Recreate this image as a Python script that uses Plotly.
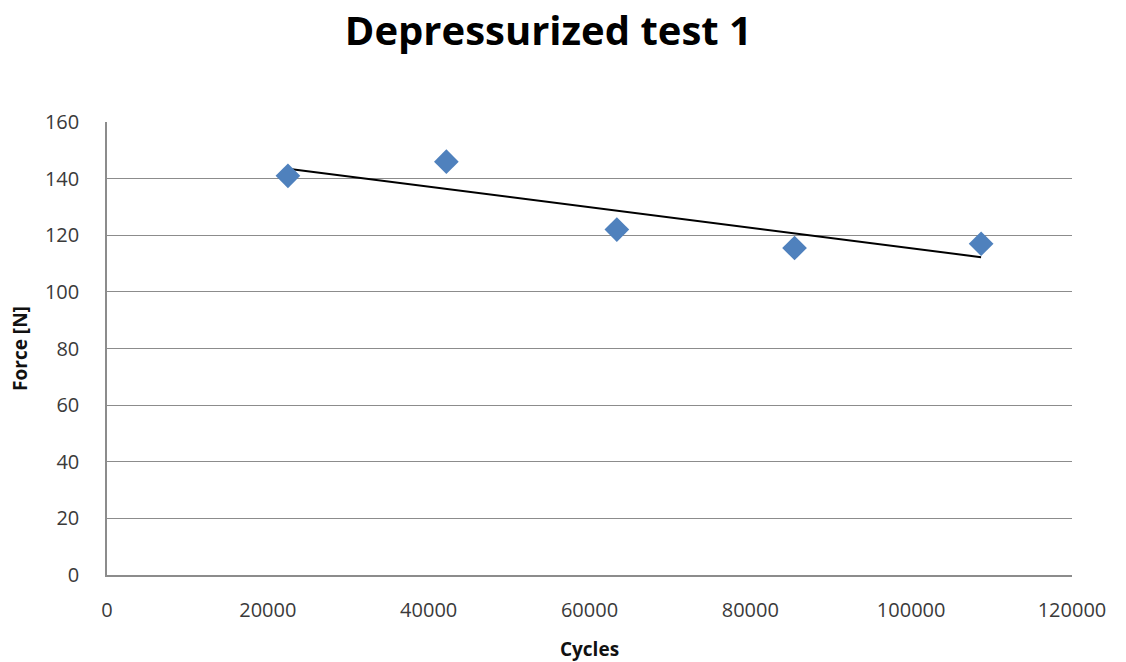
import numpy as np
import plotly.graph_objects as go

# Measured force at each cycle count
cycles = [22500, 42200, 63400, 85500, 108700]
force = [141, 146, 122, 115.5, 117]

x_ticks = [0, 20000, 40000, 60000, 80000, 100000, 120000]
y_ticks = [0, 20, 40, 60, 80, 100, 120, 140, 160]

# Least-squares linear trendline over the measured range
slope, intercept = np.polyfit(cycles, force, 1)
trend_x = [cycles[0], cycles[-1]]
trend_y = [slope * v + intercept for v in trend_x]

fig = go.Figure()
fig.add_trace(go.Scatter(
    x=trend_x, y=trend_y, mode="lines",
    line=dict(color="black", width=2), hoverinfo="skip", showlegend=False,
))
fig.add_trace(go.Scatter(
    x=cycles, y=force, mode="markers",
    marker=dict(symbol="diamond", size=19, color="#4F81BD"),
    showlegend=False,
))

family = "Open Sans, Liberation Sans, sans-serif"
tick_font = dict(family=family, size=20, color="#3a3a3a")
title_font = dict(family=family, size=19, color="#111111")

fig.update_layout(
    width=1126, height=662,
    margin=dict(l=107, r=54, t=122, b=87),
    paper_bgcolor="white", plot_bgcolor="white",
    title=dict(
        text="<b>Depressurized test 1</b>",
        x=0.487, xanchor="center", y=0.953, yanchor="middle",
        font=dict(family=family, size=40, color="black"),
    ),
    xaxis=dict(
        range=[0, 120000], tickvals=x_ticks, ticktext=[str(v) for v in x_ticks],
        showgrid=False, zeroline=False, automargin=False,
        showline=True, linecolor="#8c8c8c", linewidth=1.5,
        ticks="", ticklabelstandoff=16,
        tickfont=tick_font,
        title=dict(text="<b>Cycles</b>", font=title_font, standoff=22),
    ),
    yaxis=dict(
        range=[0, 160], tickvals=y_ticks, ticktext=[str(v) for v in y_ticks],
        showgrid=True, gridcolor="#8c8c8c", gridwidth=1.2, zeroline=False,
        automargin=False,
        showline=True, linecolor="#8c8c8c", linewidth=1.5,
        ticks="", ticklabelstandoff=22,
        tickfont=tick_font,
        title=dict(text="<b>Force [N]</b>", font=title_font, standoff=12),
    ),
)

fig.write_html("out.html")
